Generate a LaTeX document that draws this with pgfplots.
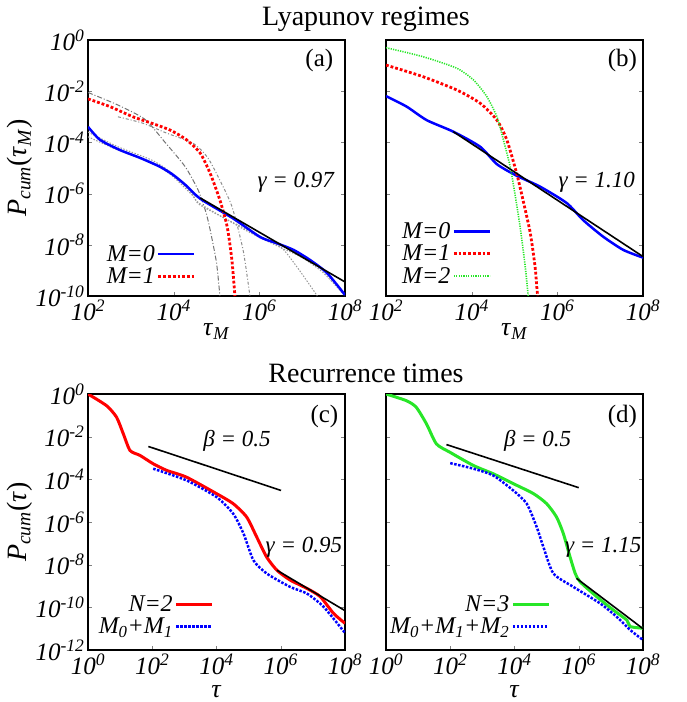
\documentclass[border=0pt]{standalone}
\usepackage{fontspec}
\setmainfont{Liberation Serif}
\usepackage{pgfplots}
\pgfplotsset{compat=1.18}

\definecolor{gpblue}{RGB}{0,0,255}
\definecolor{gpred}{RGB}{255,0,0}
\definecolor{gpgreen}{RGB}{40,230,40}

\newcommand{\tl}[1]{\textit{10}\textsuperscript{\textit{#1}}}

\tikzset{
  lnbsolid/.style={gpblue, line width=2.5pt, smooth, tension=0.4},
  lnrdot/.style={gpred, line width=2.8pt, dash pattern=on 2.8pt off 2pt, smooth, tension=0.4},
  lngdot/.style={gpgreen, line width=1.6pt, dash pattern=on 1.2pt off 1.2pt, smooth, tension=0.4},
  lnrsolid/.style={gpred, line width=3pt, smooth, tension=0.4},
  lngsolid/.style={gpgreen, line width=3pt, smooth, tension=0.4},
  lnbdot/.style={gpblue, line width=2.5pt, dash pattern=on 2.5pt off 1.5pt, smooth, tension=0.4},
  lnfit/.style={black, line width=1.6pt},
  lngrayA/.style={black!55, line width=1pt, dash pattern=on 5pt off 2pt on 1pt off 2pt, smooth, tension=0.4},
  lngrayB/.style={black!45, line width=1pt, dash pattern=on 3pt off 2pt on 1pt off 2pt, smooth, tension=0.4},
  lngrayC/.style={black!40, line width=1pt, dash pattern=on 1.5pt off 1.5pt, smooth, tension=0.4},
}

\pgfplotsset{
  every axis/.append style={
    scale only axis, width=257pt, height=256pt,
    axis line style={line width=1.2pt},
    major tick length=4pt,
    xminorticks=false, yminorticks=false,
    xtick pos=left, ytick pos=both,
    tick label style={font=\fontsize{25}{28}\selectfont},
    every axis y label/.style={at={(rel axis cs:-0.265,0.5)}, anchor=center, rotate=90,
      font=\fontsize{28}{32}\selectfont},
    every axis x label/.style={at={(rel axis cs:0.5,-0.14)}, anchor=center,
      font=\fontsize{26}{30}\selectfont},
    legend style={draw=none, fill=none, font=\fontsize{24}{26}\selectfont\itshape,
      row sep=1pt, inner sep=0pt, nodes={inner sep=2pt}},
    legend plot pos=right, legend cell align=right,
  },
  legend image code/.code={\draw[#1] (0pt,0pt) -- (36pt,0pt);},
}

\begin{document}
\begin{tikzpicture}
\useasboundingbox (0pt,0pt) rectangle (686pt,-702pt);

\node[font=\fontsize{28}{32}\selectfont] at (366pt,-19pt) {Lyapunov regimes};
\node[font=\fontsize{28}{32}\selectfont] at (366pt,-373pt) {Recurrence times};

% (a)
\begin{axis}[xmode=log, ymode=log, at={(88pt,-296pt)}, anchor=south west,
  xmin=1e2, xmax=1e8, ymin=1e-10, ymax=1,
  xtick={1e2,1e4,1e6,1e8}, xticklabels={\tl{2},\tl{4},\tl{6},\tl{8}},
  ytick={1e-10,1e-8,1e-6,1e-4,1e-2,1},
  yticklabels={\tl{-10},\tl{-8},\tl{-6},\tl{-4},\tl{-2},\tl{0}},
  xlabel={\textit{τ}\textsubscript{\textit{M}}},
  ylabel={\textit{P}\textsubscript{\textit{cum}}(\textit{τ}\textsubscript{\textit{M}})},
  legend style={at={(0.42,0.035)}, anchor=south east}]
\addplot[lngrayA, forget plot] coordinates {(1e2,8.91e-3) (5.01e2,2.88e-3) (2.14e3,7.94e-4) (6.31e3,1e-4) (1.86e4,1.12e-5) (3.72e4,1.38e-6) (5.6e4,2.0e-7) (7.08e4,3.98e-8) (1e5,2.0e-9) (1.20e5,1e-10)};
\addplot[lngrayB, forget plot] coordinates {(5.01e2,1e-3) (1.91e3,5.62e-4) (6.92e3,2.29e-4) (2.82e4,9.33e-5) (6.03e4,2.75e-5) (1.10e5,4.47e-6) (2.29e5,3.16e-7) (4.17e5,6.31e-9) (6.03e5,1e-10)};
\addplot[lngrayC, forget plot] coordinates {(1e2,2.51e-4) (5.01e2,6.76e-5) (3.16e3,2.0e-5) (9.12e3,6.31e-6) (2.69e4,1e-6) (4.17e4,3.55e-7) (5.01e5,3.98e-8) (3.09e6,8.32e-9) (7.59e6,1.35e-9) (1.82e7,1.70e-10) (2.24e7,1e-10)};
\addplot[lngrayC, forget plot] coordinates {(1e2,1.66e-4) (5.01e2,5.01e-5) (3.16e3,1.58e-5) (9.12e3,5.01e-6) (2.69e4,8.91e-7) (4.17e4,3.98e-7) (5.01e5,3.55e-8) (3.09e6,7.94e-9) (1e7,3.16e-9) (3.16e7,7.94e-10) (1e8,1e-10)};
\addplot[lnbsolid] coordinates {(1e2,4.07e-4) (1.91e2,1.26e-4) (5.62e2,5.01e-5) (1.62e3,2.51e-5) (4.79e3,1.12e-5) (9.77e3,5.37e-6) (2.0e4,2.0e-6) (4.17e4,6.31e-7) (2.45e5,1.07e-7) (1.05e6,2.0e-8) (2.57e6,1.15e-8) (6.31e6,6.31e-9) (1.55e7,2.51e-9) (3.80e7,7.94e-10) (1e8,1.10e-10)};
\addlegendentry{M=0}
\addplot[lnrdot] coordinates {(1e2,5.01e-3) (3.24e2,2.51e-3) (1.12e3,1.0e-3) (2.82e3,5.89e-4) (8.32e3,3.02e-4) (2.0e4,1.26e-4) (4.17e4,3.80e-5) (7.08e4,6.31e-6) (1.20e5,5.62e-7) (1.78e5,5.01e-8) (2.29e5,2.51e-9) (2.69e5,1e-10)};
\addlegendentry{M=1}
\addplot[lnfit, forget plot] coordinates {(4.17e4,6.76e-7) (1e8,3.55e-10)};
\node[font=\fontsize{25}{28}\selectfont] at (rel axis cs:0.90,0.92) {(a)};
\node[font=\fontsize{23}{26}\selectfont] at (rel axis cs:0.81,0.445) {\textit{γ = 0.97}};
\end{axis}

% (b)
\begin{axis}[xmode=log, ymode=log, at={(386pt,-296pt)}, anchor=south west,
  xmin=1e2, xmax=1e8, ymin=1e-10, ymax=1,
  xtick={1e2,1e4,1e6,1e8}, xticklabels={\tl{2},\tl{4},\tl{6},\tl{8}},
  ytick={1e-10,1e-8,1e-6,1e-4,1e-2,1},
  yticklabels={},
  xlabel={\textit{τ}\textsubscript{\textit{M}}},
  legend style={at={(0.41,0.035)}, anchor=south east}]
\addplot[lnbsolid] coordinates {(1e2,6.46e-3) (3.02e2,2.51e-3) (8.91e2,7.41e-4) (3.72e3,2.63e-4) (1.58e4,6.76e-5) (3.89e4,1.41e-5) (1.12e5,5.01e-6) (3.98e5,1.86e-6) (1.66e6,4.27e-7) (3.98e6,9.33e-8) (1.17e7,2.09e-8) (3.47e7,6.31e-9) (1e8,3.16e-9)};
\addlegendentry{M=0}
\addplot[lnrdot] coordinates {(1e2,1.05e-1) (7.24e2,3.72e-2) (4.47e3,1.12e-2) (1.58e4,3.39e-3) (3.89e4,7.41e-4) (6.61e4,1.26e-4) (1.12e5,6.31e-6) (1.58e5,5.62e-7) (2.34e5,2.82e-8) (3.02e5,1.41e-9) (3.31e5,2.34e-10) (3.47e5,1e-10)};
\addlegendentry{M=1}
\addplot[lngdot] coordinates {(1e2,5.01e-1) (7.24e2,2.24e-1) (4.47e3,7.94e-2) (1.10e4,2.75e-2) (2.24e4,6.31e-3) (3.89e4,1e-3) (5.50e4,1.26e-4) (7.94e4,1.12e-5) (1.02e5,1e-6) (1.35e5,5.13e-8) (1.78e5,1.41e-9) (2.09e5,1e-10)};
\addlegendentry{M=2}
\addplot[lnfit, forget plot] coordinates {(3.72e3,2.63e-4) (1e8,3.47e-9)};
\node[font=\fontsize{25}{28}\selectfont] at (rel axis cs:0.92,0.92) {(b)};
\node[font=\fontsize{23}{26}\selectfont] at (rel axis cs:0.82,0.445) {\textit{γ = 1.10}};
\end{axis}

% (c)
\begin{axis}[xmode=log, ymode=log, at={(88pt,-650pt)}, anchor=south west,
  xmin=1, xmax=1e8, ymin=1e-12, ymax=1,
  xtick={1,1e2,1e4,1e6,1e8}, xticklabels={\tl{0},\tl{2},\tl{4},\tl{6},\tl{8}},
  ytick={1e-12,1e-10,1e-8,1e-6,1e-4,1e-2,1},
  yticklabels={\tl{-12},\tl{-10},\tl{-8},\tl{-6},\tl{-4},\tl{-2},\tl{0}},
  xlabel={\textit{τ}}, x label style={at={(rel axis cs:0.5,-0.163)}},
  ylabel={\textit{P}\textsubscript{\textit{cum}}(\textit{τ})},
  legend style={at={(0.49,0.05)}, anchor=south east}]
\addplot[lnrsolid] coordinates {(1,1) (3.80,2.82e-1) (7.76,8.13e-2) (12.6,1.35e-2) (20.4,2.24e-3) (41.7,1.32e-3) (107,5.37e-4) (282,2.63e-4) (1.17e3,1.26e-4) (1e4,2.14e-5) (3.31e4,7.24e-6) (8.71e4,1.70e-6) (1.78e5,2.0e-7) (3.63e5,2.29e-8) (7.59e5,5.50e-9) (1.95e6,1.91e-9) (6.46e6,7.76e-10) (1.70e7,3.16e-10) (4.37e7,5.25e-11) (1e8,1.78e-11)};
\addlegendentry{N=2}
\addplot[lnbdot] coordinates {(107,3.16e-4) (1.17e3,8.91e-5) (1e4,1.48e-5) (3.31e4,2.45e-6) (6.92e4,2.88e-7) (1.41e5,1.62e-8) (3.63e5,3.89e-9) (1.95e6,9.12e-10) (6.46e6,4.47e-10) (2.14e7,1.07e-10) (1e8,6.31e-12)};
\addlegendentry{M\textsubscript{0}+M\textsubscript{1}}
\addplot[lnfit, forget plot] coordinates {(75.9,3.47e-3) (1.02e6,3.02e-5)};
\addplot[lnfit, forget plot] coordinates {(7.59e5,5.50e-9) (1e8,7e-11)};
\node[font=\fontsize{25}{28}\selectfont] at (rel axis cs:0.92,0.914) {(c)};
\node[font=\fontsize{23}{26}\selectfont] at (rel axis cs:0.58,0.817) {\textit{β = 0.5}};
\node[font=\fontsize{23}{26}\selectfont] at (rel axis cs:0.84,0.40) {\textit{γ = 0.95}};
\end{axis}

% (d)
\begin{axis}[xmode=log, ymode=log, at={(386pt,-650pt)}, anchor=south west,
  xmin=1, xmax=1e8, ymin=1e-12, ymax=1,
  xtick={1,1e2,1e4,1e6,1e8}, xticklabels={\tl{0},\tl{2},\tl{4},\tl{6},\tl{8}},
  ytick={1e-12,1e-10,1e-8,1e-6,1e-4,1e-2,1},
  yticklabels={},
  xlabel={\textit{τ}}, x label style={at={(rel axis cs:0.5,-0.163)}},
  legend style={at={(0.64,0.05)}, anchor=south east}]
\addplot[lngsolid] coordinates {(1,1) (4.27,4.90e-1) (8.71,2.40e-1) (18.2,3.98e-2) (37.2,4.57e-3) (97.7,1.86e-3) (525,4.47e-4) (2.19e3,1.82e-4) (9.12e3,6.31e-5) (3.89e4,2.14e-5) (1e5,7.24e-6) (2.04e5,1.70e-6) (3.31e5,2.88e-7) (5.37e5,2.29e-8) (7.76e5,3.89e-9) (1.10e6,1.58e-9) (3.63e6,3.16e-10) (1.20e7,7.41e-11) (3.16e7,2.51e-11) (3.98e7,1.26e-11) (1e8,1.05e-11)};
\addlegendentry{N=3}
\addplot[lnbdot] coordinates {(100,5.75e-4) (525,3.16e-4) (2.19e3,1.51e-4) (9.12e3,3.02e-5) (2.40e4,7.24e-6) (4.90e4,5.89e-7) (7.94e4,6.76e-8) (1.62e5,3.89e-9) (6.76e5,9.12e-10) (4.57e6,1.55e-10) (1.51e7,3.63e-11) (3.98e7,8.71e-12) (1e8,2.95e-12)};
\addlegendentry{M\textsubscript{0}+M\textsubscript{1}+M\textsubscript{2}}
\addplot[lnfit, forget plot] coordinates {(75.9,4.27e-3) (1e6,4.07e-5)};
\addplot[lnfit, forget plot] coordinates {(8.51e5,2.29e-9) (1e8,1e-11)};
\node[font=\fontsize{25}{28}\selectfont] at (rel axis cs:0.92,0.914) {(d)};
\node[font=\fontsize{23}{26}\selectfont] at (rel axis cs:0.59,0.817) {\textit{β = 0.5}};
\node[font=\fontsize{23}{26}\selectfont] at (rel axis cs:0.845,0.40) {\textit{γ = 1.15}};
\end{axis}
\end{tikzpicture}
\end{document}
